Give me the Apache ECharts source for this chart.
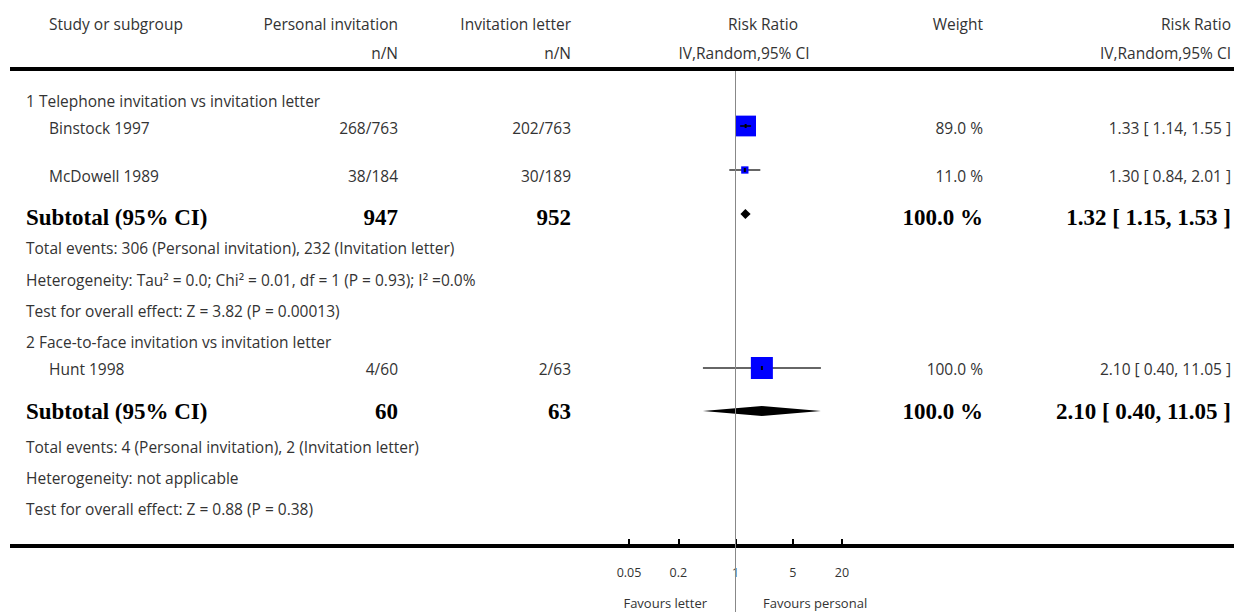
<!DOCTYPE html>
<html><head><meta charset="utf-8">
<script src="https://cdn.jsdelivr.net/npm/echarts@6/dist/echarts.min.js"></script>
<style>html,body{margin:0;padding:0;background:#fff}#c{width:1234px;height:612px}</style>
</head><body><div id="c"></div>
<script>
// ---------------- data ----------------
const colHeaders1 = ['Study or subgroup', 'Personal invitation', 'Invitation letter', 'Risk Ratio', 'Weight', 'Risk Ratio'];
const colHeaders2 = ['n/N', 'n/N', 'IV,Random,95% CI', 'IV,Random,95% CI'];
const groupNames = ['1 Telephone invitation vs invitation letter', '2 Face-to-face invitation vs invitation letter'];
const studyNames = ['Binstock 1997', 'McDowell 1989', 'Hunt 1998'];
const studyGroup = [0, 0, 1];
const personalEvents = [268, 38, 4];
const personalTotal = [763, 184, 60];
const letterEvents = [202, 30, 2];
const letterTotal = [763, 189, 63];
const studyRR = [1.33, 1.30, 2.10];
const studyLow = [1.14, 0.84, 0.40];
const studyHigh = [1.55, 2.01, 11.05];
const studyWeight = [89.0, 11.0, 100.0];
const subtotalRR = [1.32, 2.10];
const subtotalLow = [1.15, 0.40];
const subtotalHigh = [1.53, 11.05];
const subtotalWeight = [100.0, 100.0];
const heterogeneity = ['Heterogeneity: Tau\u00B2 = 0.0; Chi\u00B2 = 0.01, df = 1 (P = 0.93); I\u00B2 =0.0%', 'Heterogeneity: not applicable'];
const overallEffect = ['Test for overall effect: Z = 3.82 (P = 0.00013)', 'Test for overall effect: Z = 0.88 (P = 0.38)'];
const tickValues = [0.05, 0.2, 1, 5, 20];
const favoursLabels = ['Favours letter', 'Favours personal'];

// ---------------- layout ----------------
const L = {
  nameX: 49, groupX: 26, personalX: 398, letterX: 571, rrHead1X: 763, rrHead2X: 744, weightX: 983, rrX: 1231,
  head1Y: 24, head2Y: 53,
  groupY: [101, 342], studyY: [128, 176, 369], studyMarkY: [126, 170, 368],
  subY: [217, 411], subMarkY: [214, 411], eventsY: [248, 447], hetY: [280, 478], testY: [311, 509],
  topLineY: 69, bottomLineY: 546, lineX0: 10, lineX1: 1234,
  favoursY: 603, refX: 735, favoursGap: 28,
  plotLeft: 629, plotRight: 392, plotTop: 71
};
const FONT = '15.5px "Open Sans", Lato, sans-serif';
const SFONT = '13px "Open Sans", Lato, sans-serif';
const BFONT = 'bold 23px "Liberation Serif", "DejaVu Serif", serif';
const TXT = '#333';

function txt(text, x, y, align, font, fill) {
  return { type: 'text', x: x, y: y, silent: true,
    style: { text: text, font: font || FONT, fill: fill || TXT, align: align, textAlign: align,
             verticalAlign: 'middle', textVerticalAlign: 'middle' } };
}
const fmt2 = v => v.toFixed(2);
const ciText = (r, l, h) => fmt2(r) + ' [ ' + fmt2(l) + ', ' + fmt2(h) + ' ]';

const g = [];
// header
g.push(txt(colHeaders1[0], L.nameX, L.head1Y, 'left'));
g.push(txt(colHeaders1[1], L.personalX, L.head1Y, 'right'));
g.push(txt(colHeaders1[2], L.letterX, L.head1Y, 'right'));
g.push(txt(colHeaders1[3], L.rrHead1X, L.head1Y, 'center'));
g.push(txt(colHeaders1[4], L.weightX, L.head1Y, 'right'));
g.push(txt(colHeaders1[5], L.rrX, L.head1Y, 'right'));
g.push(txt(colHeaders2[0], L.personalX, L.head2Y, 'right'));
g.push(txt(colHeaders2[1], L.letterX, L.head2Y, 'right'));
g.push(txt(colHeaders2[2], L.rrHead2X, L.head2Y, 'center'));
g.push(txt(colHeaders2[3], L.rrX, L.head2Y, 'right'));
// rules
g.push({ type: 'line', silent: true, shape: { x1: L.lineX0, y1: L.topLineY, x2: L.lineX1, y2: L.topLineY }, style: { stroke: '#000', lineWidth: 4 } });
g.push({ type: 'line', silent: true, shape: { x1: L.lineX0, y1: L.bottomLineY, x2: L.lineX1, y2: L.bottomLineY }, style: { stroke: '#000', lineWidth: 4 } });

// groups
groupNames.forEach((gn, gi) => {
  g.push(txt(gn, L.groupX, L.groupY[gi], 'left'));
  let pe = 0, pt = 0, le = 0, lt = 0;
  studyNames.forEach((sn, si) => {
    if (studyGroup[si] !== gi) return;
    pe += personalEvents[si]; pt += personalTotal[si]; le += letterEvents[si]; lt += letterTotal[si];
    const y = L.studyY[si];
    g.push(txt(sn, L.nameX, y, 'left'));
    g.push(txt(personalEvents[si] + '/' + personalTotal[si], L.personalX, y, 'right'));
    g.push(txt(letterEvents[si] + '/' + letterTotal[si], L.letterX, y, 'right'));
    g.push(txt(studyWeight[si].toFixed(1) + ' %', L.weightX, y, 'right'));
    g.push(txt(ciText(studyRR[si], studyLow[si], studyHigh[si]), L.rrX, y, 'right'));
  });
  const sy = L.subY[gi];
  g.push(txt('Subtotal (95% CI)', L.groupX, sy, 'left', BFONT, '#000'));
  g.push(txt(String(pt), L.personalX, sy, 'right', BFONT, '#000'));
  g.push(txt(String(lt), L.letterX, sy, 'right', BFONT, '#000'));
  g.push(txt(subtotalWeight[gi].toFixed(1) + ' %', L.weightX, sy, 'right', BFONT, '#000'));
  g.push(txt(ciText(subtotalRR[gi], subtotalLow[gi], subtotalHigh[gi]), L.rrX, sy, 'right', BFONT, '#000'));
  g.push(txt('Total events: ' + pe + ' (Personal invitation), ' + le + ' (Invitation letter)', L.groupX, L.eventsY[gi], 'left'));
  g.push(txt(heterogeneity[gi], L.groupX, L.hetY[gi], 'left'));
  g.push(txt(overallEffect[gi], L.groupX, L.testY[gi], 'left'));
});
// favours
g.push(txt(favoursLabels[0], L.refX - L.favoursGap, L.favoursY, 'right', SFONT));
g.push(txt(favoursLabels[1], L.refX + L.favoursGap, L.favoursY, 'left', SFONT));

// series data (log10 scale)
const studyData = studyNames.map((n, i) => [Math.log10(studyRR[i]), Math.log10(studyLow[i]), Math.log10(studyHigh[i]), studyWeight[i], L.studyMarkY[i]]);
const subData = subtotalRR.map((r, i) => [Math.log10(r), Math.log10(subtotalLow[i]), Math.log10(subtotalHigh[i]), subtotalWeight[i], L.subMarkY[i]]);
const logTicks = tickValues.map(v => Math.log10(v));

const chart = echarts.init(document.getElementById('c'), null, { renderer: 'svg', width: 1234, height: 612 });
chart.setOption({
  animation: false,
  backgroundColor: '#fff',
  grid: { left: L.plotLeft, right: L.plotRight, top: L.plotTop, bottom: 0, containLabel: false, outerBoundsMode: 'none' },
  xAxis: {
    type: 'value', min: Math.log10(tickValues[0]), max: Math.log10(tickValues[tickValues.length - 1]),
    offset: -(612 - L.bottomLineY + 1),
    axisLine: { show: false }, splitLine: { show: false },
    axisTick: { show: true, inside: true, length: 6, lineStyle: { color: '#000', width: 2 }, customValues: logTicks },
    axisLabel: { customValues: logTicks, margin: 21, color: TXT, fontSize: 12.5, fontFamily: '"Open Sans", Lato, sans-serif',
      showMinLabel: true, showMaxLabel: true,
      formatter: v => { const t = tickValues.find(tv => Math.abs(Math.log10(tv) - v) < 1e-6); return t === undefined ? '' : String(t); } }
  },
  yAxis: { type: 'value', inverse: true, min: L.plotTop, max: 612, show: false },
  graphic: { elements: g },
  series: [
    {
      type: 'custom', clip: false, silent: true,
      data: studyData,
      renderItem: (params, api) => {
        const y = api.value(4);
        const c = api.coord([api.value(0), y]);
        const lo = api.coord([api.value(1), y]);
        const hi = api.coord([api.value(2), y]);
        const size = 22 * Math.sqrt(api.value(3) / 100);
        const inside = lo[0] >= c[0] - size / 2 && hi[0] <= c[0] + size / 2;
        const line = { type: 'line', shape: { x1: lo[0], y1: c[1], x2: hi[0], y2: c[1] }, style: { stroke: inside ? '#000' : '#333', lineWidth: 1.5 } };
        const box = { type: 'rect', shape: { x: c[0] - size / 2, y: c[1] - size / 2, width: size, height: size }, style: { fill: '#0000ff' } };
        const dot = { type: 'rect', shape: { x: c[0] - 1, y: c[1] - 2, width: 2, height: 4 }, style: { fill: '#000' } };
        return { type: 'group', children: inside ? [box, line, dot] : [line, box, dot] };
      },
      markLine: {
        silent: true, symbol: ['none', 'none'], label: { show: false },
        lineStyle: { color: '#888', width: 1, type: 'solid' },
        data: [{ xAxis: 0 }]
      },
      z: 3
    },
    {
      type: 'custom', clip: false, silent: true,
      data: subData,
      renderItem: (params, api) => {
        const y = api.value(4);
        const c = api.coord([api.value(0), y]);
        const lo = api.coord([api.value(1), y]);
        const hi = api.coord([api.value(2), y]);
        const h = 5;
        return { type: 'polygon', shape: { points: [[lo[0], c[1]], [c[0], c[1] - h], [hi[0], c[1]], [c[0], c[1] + h]] }, style: { fill: '#000' } };
      },
      z: 3
    }
  ]
});
</script></body></html>
